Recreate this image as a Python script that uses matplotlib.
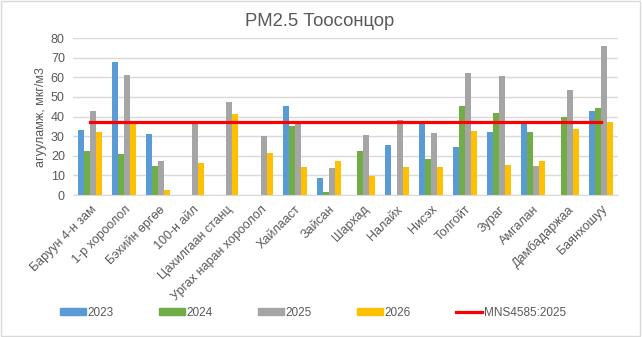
import numpy as np
import matplotlib
matplotlib.use("Agg")
import matplotlib.pyplot as plt
from matplotlib.patches import Rectangle, Patch
from matplotlib.lines import Line2D

plt.rcParams['font.family'] = ['Liberation Sans', 'DejaVu Sans']

# ========== DATA ==========
stations = ['Баруун 4-н зам', '1-р хороолол', 'Бэхийн өргөө', '100-н айл',
            'Цахилгаан станц', 'Ургах наран хороолол', 'Хайлааст', 'Зайсан',
            'Шархад', 'Налайх', 'Нисэх', 'Толгойт', 'Зураг', 'Амгалан',
            'Дамбадаржаа', 'Баянхошуу']
years = ['2023', '2024', '2025', '2026']
v2023 = [33, 67.6, 31, np.nan, np.nan, np.nan, 45.6, 8.8,
         np.nan, 25.7, 37, 24.7, 32.3, 36.5, np.nan, 42.6]
v2024 = [22.7, 20.7, 14.6, np.nan, np.nan, np.nan, 35, 1.7,
         22.6, np.nan, 18.5, 45.6, 42, 32.3, 40, 44.6]
v2025 = [42.6, 61, 17.5, 37.5, 47.6, 30, 36, 14,
         30.8, 38.5, 31.8, 62, 60.5, 15, 53.8, 75.8]
v2026 = [32, 36, 2.7, 16.5, 41.5, 21.6, 14.5, 17.5,
         9.9, 14.5, 14.5, 32.9, 15.5, 17.5, 33.9, 37]
standard = 37.5
standard_label = 'MNS4585:2025'
# ==========================

colors = ['#5B9BD5', '#70AD47', '#A5A5A5', '#FFC000']
series = [v2023, v2024, v2025, v2026]

fig = plt.figure(figsize=(6.42, 3.37), dpi=100)
ax = fig.add_axes([0.114, 0.421, 0.849, 0.466])

x = np.arange(len(stations))
w = 0.176
for i, (vals, c) in enumerate(zip(series, colors)):
    ax.bar(x + (i - 1.5) * w, vals, width=w, color=c, zorder=2)

ax.plot(x, [standard] * len(stations), color='#FF0000', lw=2.3, zorder=3)

ax.set_xlim(-0.5, len(stations) - 0.5)
ax.set_ylim(0, 80)
ax.set_yticks(range(0, 81, 10))
ax.grid(axis='y', color='#D9D9D9', lw=1, zorder=0)
ax.set_axisbelow(True)
for s in ['top', 'right', 'left']:
    ax.spines[s].set_visible(False)
ax.spines['bottom'].set_color('#D9D9D9')
ax.tick_params(axis='y', length=0, labelsize=9, labelcolor='#595959', pad=6)
ax.tick_params(axis='x', length=0, labelsize=9, labelcolor='#595959', pad=6)
ax.set_xticks(x)
ax.set_xticklabels(stations, rotation=45, ha='right', rotation_mode='anchor')
ax.set_ylabel('агууламж, мкг/м3', fontsize=9, color='#595959', labelpad=3)

fig.text(0.498, 0.936, 'PM2.5 Тоосонцор', ha='center', va='center',
         fontsize=13.3, color='#595959')

handles = [Patch(color=c) for c in colors] + [Line2D([], [], color='#FF0000', lw=2.3)]
fig.legend(handles, years + [standard_label], loc='center', ncol=5,
           bbox_to_anchor=(0.4875, 0.072), frameon=False, fontsize=8.5,
           labelcolor='#595959', handlelength=2.2, handleheight=0.5,
           handletextpad=0.17, columnspacing=3.8, borderpad=0, borderaxespad=0)

fig.add_artist(Rectangle((0.002, 0.003), 0.995, 0.993, transform=fig.transFigure,
                         fill=False, edgecolor='#D9D9D9', lw=1))

plt.savefig('out.png', dpi=100)
